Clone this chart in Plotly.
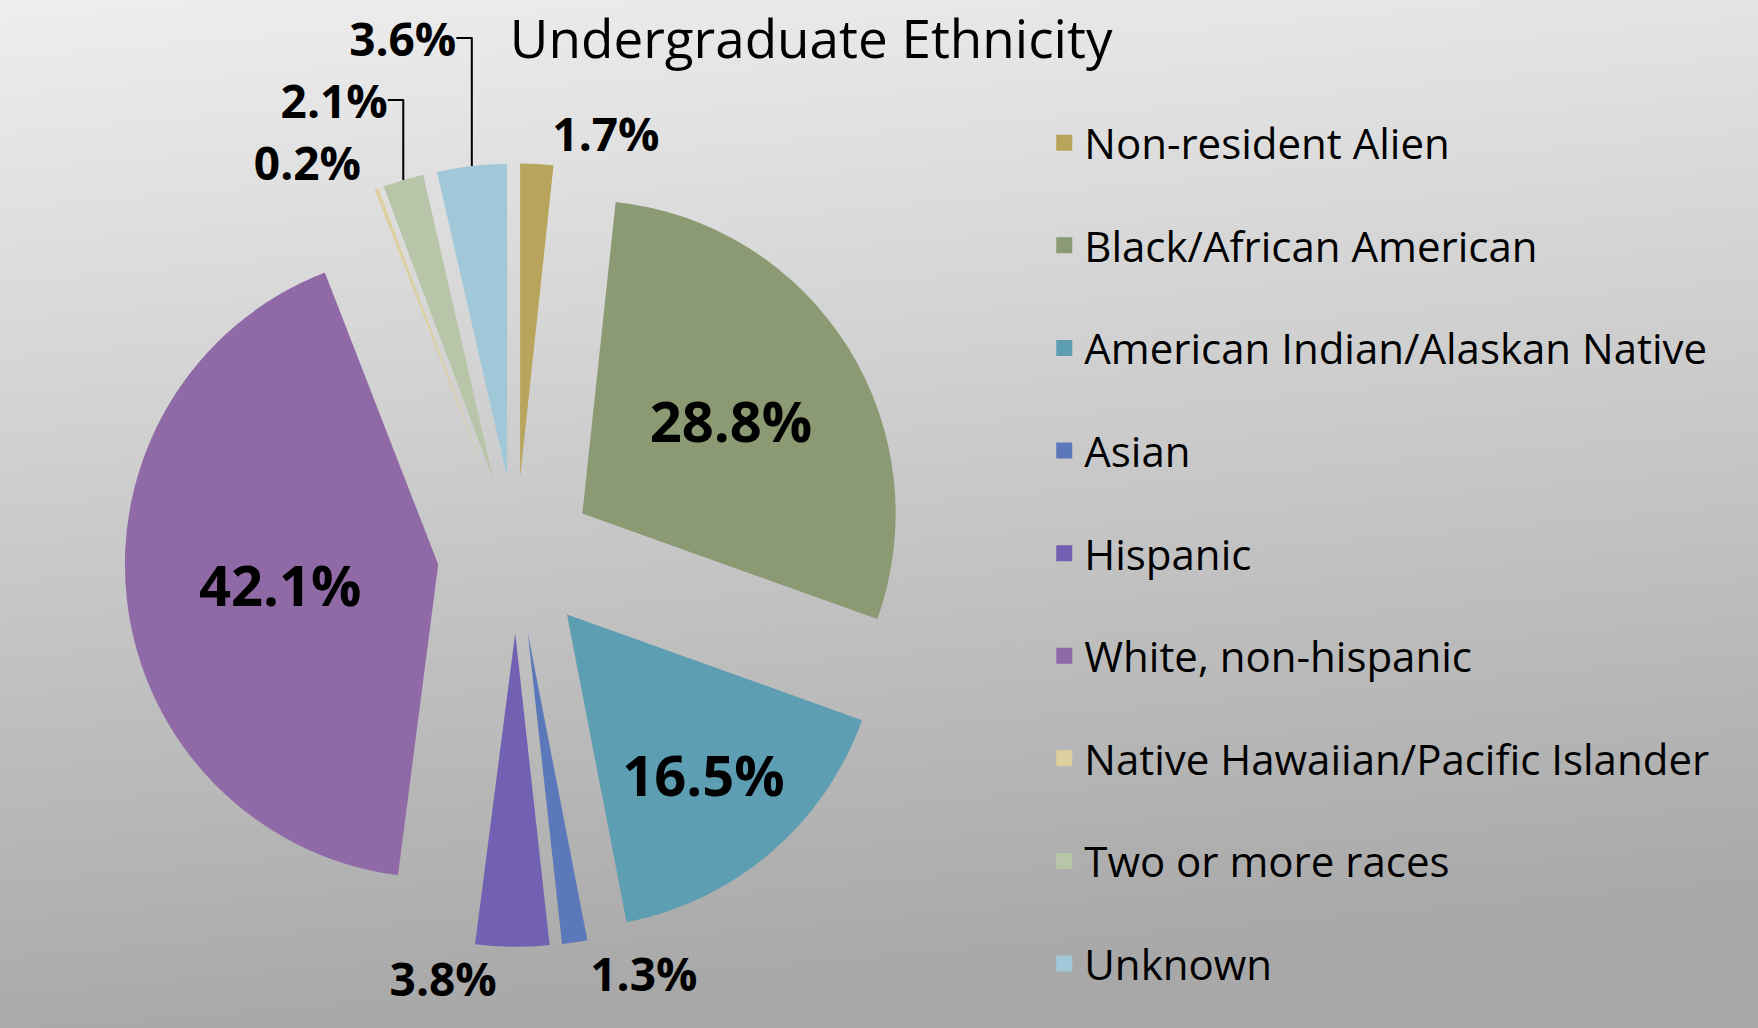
import base64
import plotly.graph_objects as go

categories = [
    "Non-resident Alien",
    "Black/African American",
    "American Indian/Alaskan Native",
    "Asian",
    "Hispanic",
    "White, non-hispanic",
    "Native Hawaiian/Pacific Islander",
    "Two or more races",
    "Unknown",
]
values = [1.7, 28.8, 16.5, 1.3, 3.8, 42.1, 0.2, 2.1, 3.6]
colors = ["#B8A45A", "#8B9A72", "#5E9EB3", "#5A78BA", "#7260B2",
          "#906AA6", "#DDD09E", "#B8C5A8", "#A0C8D8"]
text_positions = ["outside", "inside", "inside", "outside", "outside",
                  "inside", "outside", "outside", "outside"]
title_text = "Undergraduate Ethnicity"

FONT = "Open Sans"

fig = go.Figure()
fig.add_trace(go.Pie(
    labels=categories,
    values=values,
    marker=dict(colors=colors),
    sort=False,
    direction="clockwise",
    rotation=0,
    pull=[0.25] * len(values),
    texttemplate="%{value:.1f}%",
    textposition=text_positions,
    insidetextfont=dict(family=FONT, size=56, color="black", weight="bold"),
    outsidetextfont=dict(family=FONT, size=46, color="black", weight="bold"),
    insidetextorientation="horizontal",
    automargin=False,
    showlegend=False,
    hoverinfo="label+value",
    domain=dict(x=[0.0705, 0.5165], y=[0.079, 0.841]),
))

for name, col in zip(categories, colors):
    fig.add_trace(go.Scatter(
        x=[None], y=[None], mode="markers", name=name,
        legendgroup=name,
        marker=dict(symbol="square", size=22, color=col),
        showlegend=True,
    ))

svg = (
    '<svg xmlns="http://www.w3.org/2000/svg" width="100" height="100" viewBox="0 0 100 100" preserveAspectRatio="none">'
    '<defs><linearGradient id="g" x1="0" y1="0" x2="0.15" y2="1">'
    '<stop offset="0" stop-color="#eeeeee"/>'
    '<stop offset="1" stop-color="#a8a8a8"/>'
    '</linearGradient></defs>'
    '<rect width="100" height="100" fill="url(#g)"/></svg>'
)
src = "data:image/svg+xml;base64," + base64.b64encode(svg.encode()).decode()

fig.update_layout(
    width=1758, height=1028,
    margin=dict(l=0, r=0, t=0, b=0),
    paper_bgcolor="#cccccc",
    plot_bgcolor="rgba(0,0,0,0)",
    images=[dict(source=src, xref="paper", yref="paper", x=0, y=1,
                 sizex=1, sizey=1, sizing="stretch", layer="below",
                 xanchor="left", yanchor="top")],
    xaxis=dict(visible=False),
    yaxis=dict(visible=False),
    title=dict(text=title_text, xref="container", yref="container",
               x=0.29, xanchor="left", y=0.962, yanchor="middle",
               font=dict(family=FONT, size=53, color="black")),
    legend=dict(
        x=0.594, xanchor="left", y=0.894, yanchor="top",
        font=dict(family=FONT, size=42, color="black"),
        bgcolor="rgba(0,0,0,0)",
        traceorder="grouped",
        tracegroupgap=45,
        itemsizing="trace",
    ),
)

fig.write_html("out.html", config={"displayModeBar": False},
               post_script="document.body.style.margin='0px';")
